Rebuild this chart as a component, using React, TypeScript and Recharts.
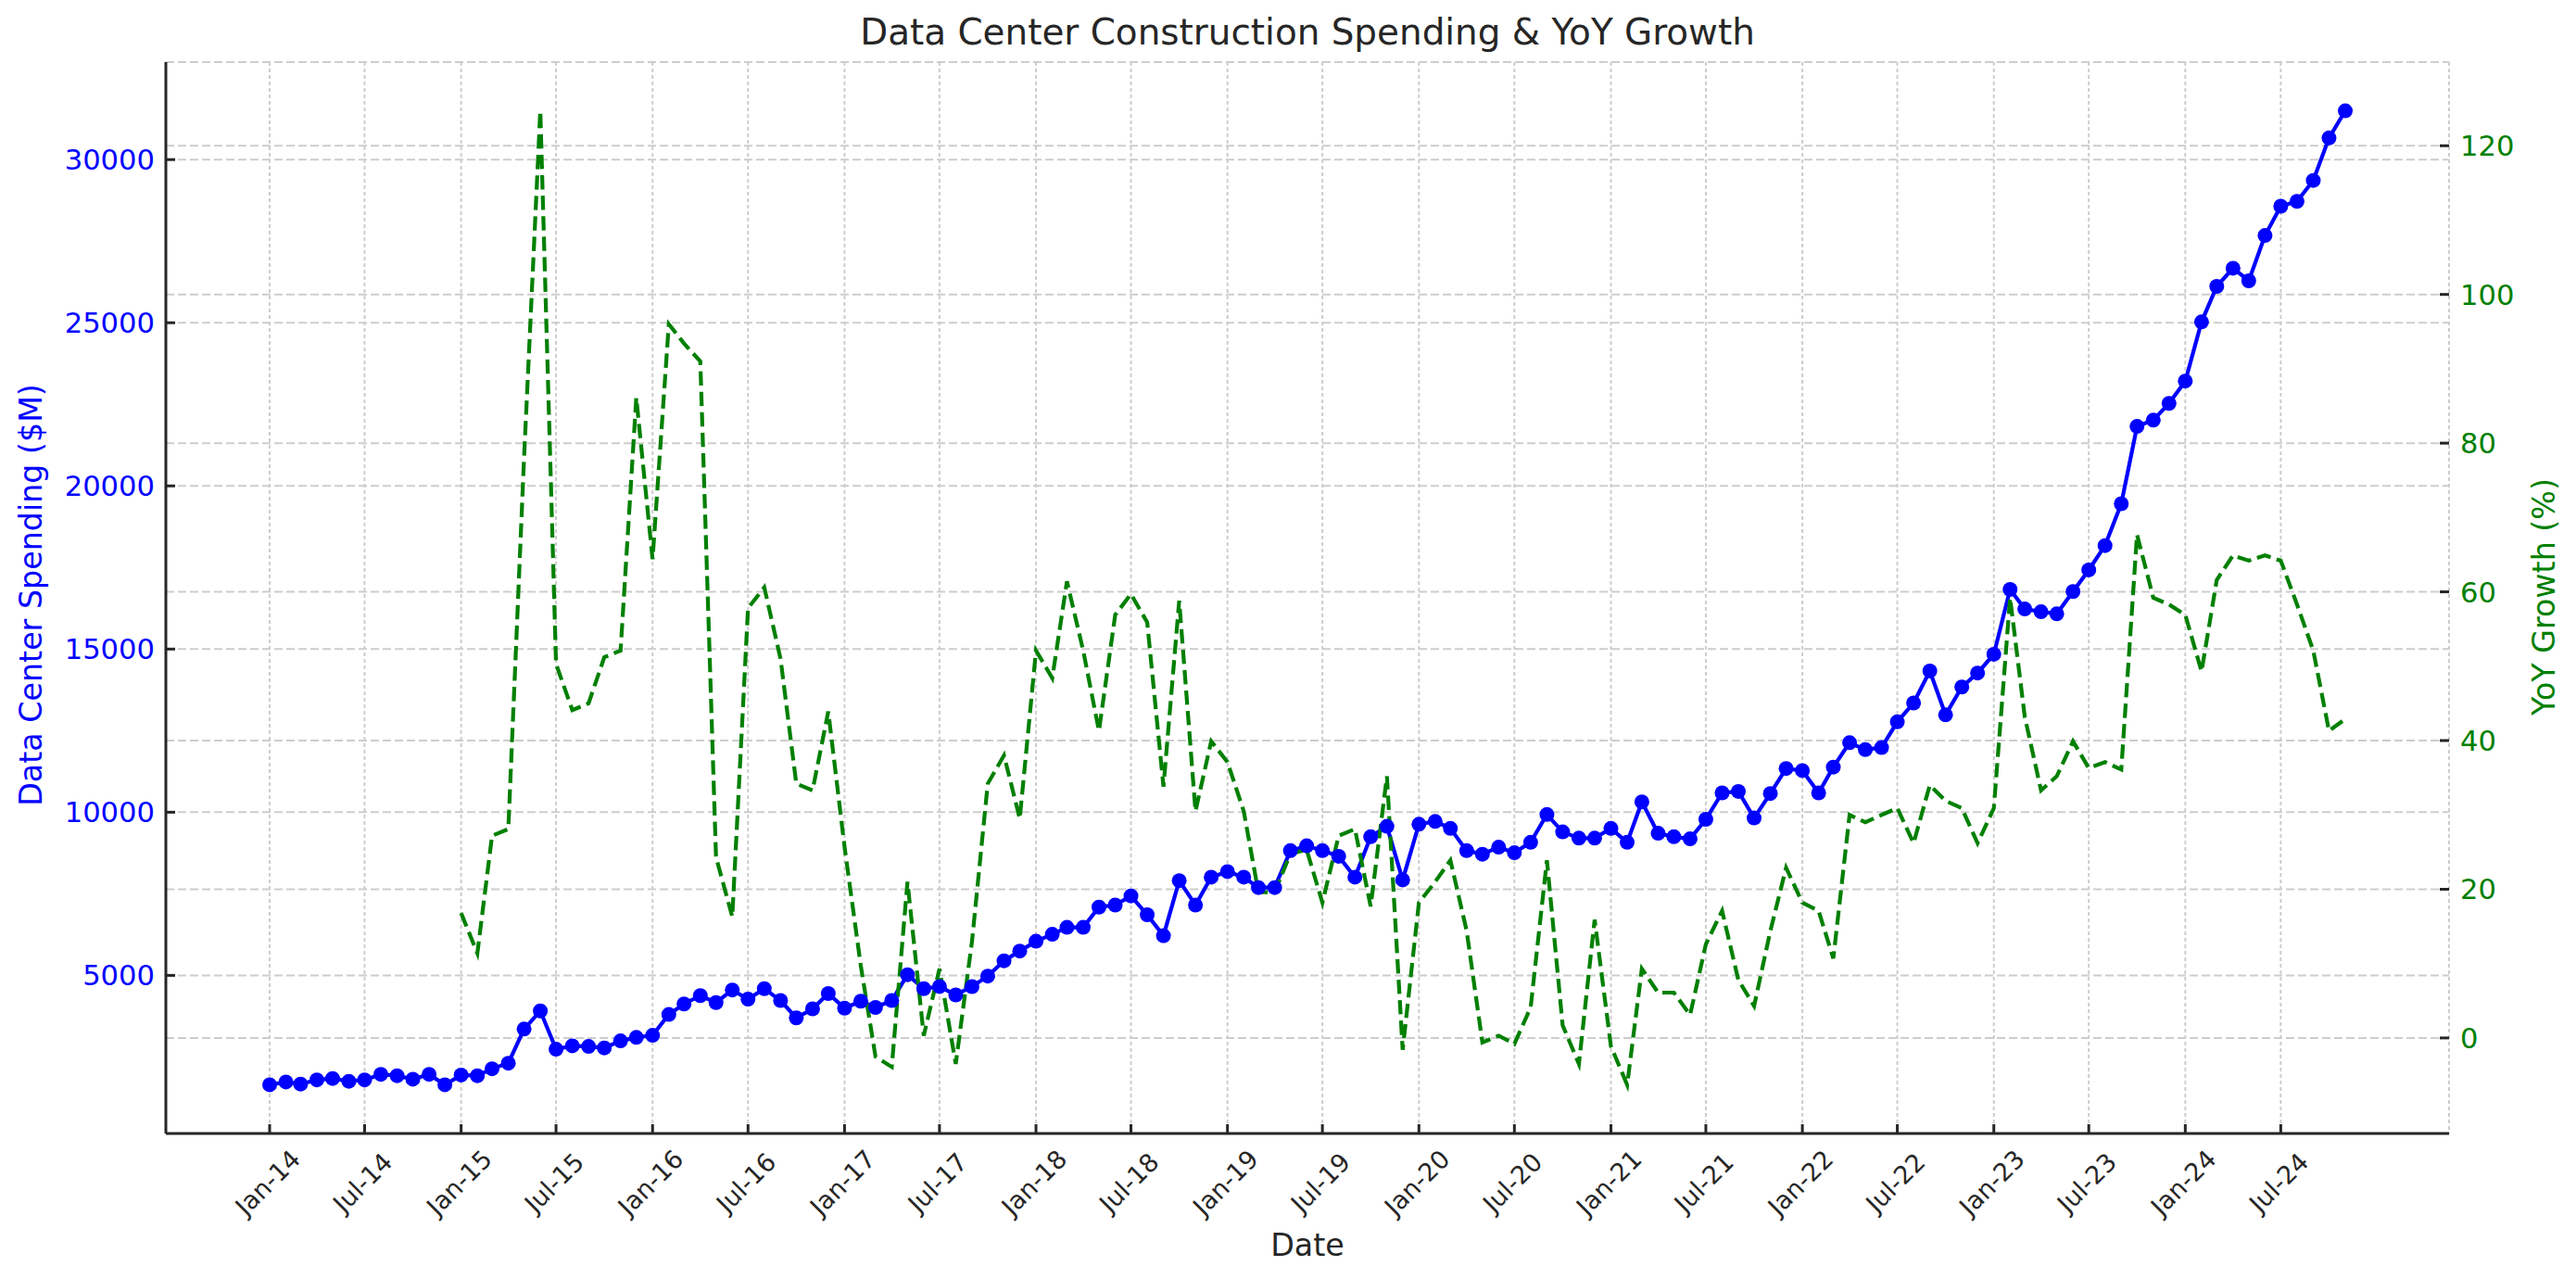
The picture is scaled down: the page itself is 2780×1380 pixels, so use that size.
import React from 'react';
import { ComposedChart, Line, XAxis, YAxis, CartesianGrid } from 'recharts';

// monthly values, Jan-14 .. Nov-24
const START_YEAR = 2014;
const MONTHS = ['Jan', 'Feb', 'Mar', 'Apr', 'May', 'Jun', 'Jul', 'Aug', 'Sep', 'Oct', 'Nov', 'Dec'];

const SPENDING = [
  1647, 1733, 1669, 1797, 1840, 1755, 1797, 1968, 1925, 1818, 1968, 1647,
  1947, 1925, 2139, 2309, 3355, 3910, 2736, 2842, 2821, 2778, 2992, 3099,
  3163, 3803, 4124, 4380, 4166, 4551, 4273, 4593, 4230, 3697, 3974, 4444,
  3995, 4209, 4017, 4230, 5020, 4593, 4658, 4401, 4657, 4978, 5448, 5746,
  6045, 6259, 6473, 6473, 7092, 7156, 7434, 6857, 6216, 7903, 7156, 8010,
  8180, 8010, 7690, 7690, 8821, 8971, 8821, 8650, 8010, 9248, 9568, 7924,
  9632, 9718, 9504, 8821, 8714, 8928, 8757, 9077, 9931, 9397, 9205, 9205,
  9504, 9077, 10315, 9354, 9248, 9184, 9782, 10593, 10636, 9824, 10572, 11340,
  11276, 10593, 11383, 12130, 11917, 11981, 12771, 13347, 14329, 12984, 13838, 14265,
  14841, 16827, 16229, 16144, 16080, 16763, 17425, 18172, 19453, 21823, 22015, 22528,
  23211, 25026, 26114, 26669, 26285, 27673, 28570, 28720, 29360, 30662, 31495,
];

// YoY growth starts one year later (Jan-15)
const YOY_GROWTH = [
  16.8, 11.4, 27.2, 28.1, 78, 124.7, 50.3, 44.1, 45.0, 51.2, 52.1, 86.1,
  64.4, 96.0, 93.4, 91.0, 24.3, 16.3, 57.8, 60.6, 51.0, 34.2, 33.3, 43.9,
  25.7, 9.7, -2.5, -3.9, 21.0, 0.3, 9.3, -3.5, 13, 34.2, 38.0, 29.5,
  52.1, 48.4, 61.4, 52.1, 41.3, 56.9, 59.7, 55.9, 33.8, 58.8, 30.5, 39.9,
  37.1, 30.5, 19.6, 19.6, 24.8, 25.3, 18.2, 27.2, 28.1, 17.7, 35.2, -1.6,
  18.2, 21.0, 23.9, 14.4, -0.6, 0.3, -0.8, 4.1, 23.9, 1.7, -3.5, 15.9,
  -1.1, -6.3, 9.3, 6.1, 6.1, 3.1, 12.6, 17.1, 7.8, 4.3, 14.4, 22.9,
  18.2, 17.1, 10.7, 30.0, 29.0, 30.0, 30.9, 26.2, 34.0, 31.9, 30.9, 26.2,
  30.9, 59.2, 43.2, 33.3, 35.2, 39.9, 36.3, 37.1, 36.1, 67.7, 59.2, 58.3,
  56.9, 49.3, 61.6, 64.9, 64.2, 64.9, 64.2, 58.3, 52.1, 41.3, 42.9,
];

const LEFT_TICKS = [5000, 10000, 15000, 20000, 25000, 30000];
const RIGHT_TICKS = [0, 20, 40, 60, 80, 100, 120];

const BLUE = '#0000ff';
const GREEN = '#008000';
const DARK = '#262626';
const GRID = '#cdcdcd';
const FONT = 'DejaVu Sans, sans-serif';

const DAY = 86400000;
const dayOf = (i: number) => (Date.UTC(START_YEAR, i, 1) - Date.UTC(START_YEAR, 0, 1)) / DAY;
const labelOf = (i: number) =>
  `${MONTHS[i % 12]}-${String((START_YEAR + Math.floor(i / 12)) % 100).padStart(2, '0')}`;

const rows = SPENDING.map((v, i) => ({
  t: dayOf(i),
  spend: v,
  yoy: i >= 12 ? YOY_GROWTH[i - 12] : null,
}));

const xTickIdx: number[] = [];
for (let i = 0; i < SPENDING.length; i += 6) xTickIdx.push(i);
const X_TICKS = xTickIdx.map(dayOf);
const xLabel: Record<number, string> = {};
xTickIdx.forEach((i) => (xLabel[dayOf(i)] = labelOf(i)));

// matplotlib style 5% margins
const pad = (lo: number, hi: number): [number, number] => [lo - (hi - lo) * 0.05, hi + (hi - lo) * 0.05];
const X_DOMAIN = pad(0, dayOf(SPENDING.length - 1));
const LEFT_DOMAIN = pad(Math.min(...SPENDING), Math.max(...SPENDING));
const RIGHT_DOMAIN = pad(Math.min(...YOY_GROWTH), Math.max(...YOY_GROWTH));

const W = 2780;
const H = 1380;
const TOP = 67;
const LEFT_W = 179;
const RIGHT_W = 137;
const X_H = 157;
const AXIS_Y = H - X_H;

const LeftTick = ({ x, y, payload }: any) => (
  <g>
    <line x1={x} x2={x + 10} y1={y} y2={y} stroke={DARK} strokeWidth={3} />
    <text x={x - 12} y={y} dy="0.36em" textAnchor="end" fill={BLUE} fontSize={30.6} fontFamily={FONT}>
      {payload.value}
    </text>
  </g>
);

const RightTick = ({ x, y, payload }: any) => (
  <g>
    <line x1={x - 10} x2={x} y1={y} y2={y} stroke={DARK} strokeWidth={3} />
    <text x={x + 12} y={y} dy="0.36em" textAnchor="start" fill={GREEN} fontSize={30.6} fontFamily={FONT}>
      {payload.value}
    </text>
  </g>
);

const DateTick = ({ x, y, payload }: any) => (
  <g>
    <line x1={x} x2={x} y1={y - 10} y2={y} stroke={DARK} strokeWidth={3} />
    <text
      transform={`translate(${x - 2}, ${AXIS_Y + 53}) rotate(-45)`}
      textAnchor="middle"
      dy="0.35em"
      fill={DARK}
      fontSize={27}
      fontFamily={FONT}
    >
      {xLabel[payload.value]}
    </text>
  </g>
);

export default function App() {
  return (
    <div style={{ position: 'absolute', left: 0, top: 0, width: W, height: H, background: '#fff' }}>
      <ComposedChart width={W} height={H} data={rows} margin={{ top: TOP, right: 0, bottom: 0, left: 0 }}>
        {/* date grid: dotted */}
        <CartesianGrid
          xAxisId="x"
          yAxisId="left"
          horizontal={false}
          stroke={GRID}
          strokeWidth={2}
          strokeDasharray="4 3"
        />
        <CartesianGrid
          xAxisId="x"
          yAxisId="left"
          vertical={false}
          stroke={GRID}
          strokeWidth={2}
          strokeDasharray="9 4"
        />
        <CartesianGrid
          xAxisId="x"
          yAxisId="right"
          vertical={false}
          stroke={GRID}
          strokeWidth={2}
          strokeDasharray="9 4"
        />
        <XAxis
          xAxisId="x"
          dataKey="t"
          type="number"
          domain={X_DOMAIN}
          allowDataOverflow
          ticks={X_TICKS}
          interval={0}
          height={X_H}
          tickSize={0}
          tickMargin={0}
          tickLine={false}
          axisLine={{ stroke: DARK, strokeWidth: 3 }}
          tick={<DateTick />}
        />
        <YAxis
          yAxisId="left"
          orientation="left"
          type="number"
          domain={LEFT_DOMAIN}
          allowDataOverflow
          ticks={LEFT_TICKS}
          interval={0}
          width={LEFT_W}
          tickSize={0}
          tickMargin={0}
          tickLine={false}
          axisLine={{ stroke: DARK, strokeWidth: 3 }}
          tick={<LeftTick />}
        />
        <YAxis
          yAxisId="right"
          orientation="right"
          type="number"
          domain={RIGHT_DOMAIN}
          allowDataOverflow
          ticks={RIGHT_TICKS}
          interval={0}
          width={RIGHT_W}
          tickSize={0}
          tickMargin={0}
          tickLine={false}
          axisLine={false}
          tick={<RightTick />}
        />
        <Line
          xAxisId="x"
          yAxisId="left"
          dataKey="spend"
          stroke={BLUE}
          strokeWidth={4.2}
          dot={{ r: 8, fill: BLUE, stroke: BLUE, strokeWidth: 0 }}
          activeDot={false}
          isAnimationActive={false}
        />
        <Line
          xAxisId="x"
          yAxisId="right"
          dataKey="yoy"
          stroke={GREEN}
          strokeWidth={4.2}
          strokeDasharray="15.4 6.7"
          dot={false}
          activeDot={false}
          connectNulls={false}
          isAnimationActive={false}
        />
      </ComposedChart>
      <svg
        width={W}
        height={H}
        style={{ position: 'absolute', left: 0, top: 0, pointerEvents: 'none' }}
        fontFamily={FONT}
      >
        <text x={1411} y={48} textAnchor="middle" fontSize={38.9} fill={DARK}>
          Data Center Construction Spending &amp; YoY Growth
        </text>
        <text x={1411} y={1355} textAnchor="middle" fontSize={33.3} fill={DARK}>
          Date
        </text>
        <text transform="translate(45, 642) rotate(-90)" textAnchor="middle" fontSize={33.3} fill={BLUE}>
          Data Center Spending ($M)
        </text>
        <text transform="translate(2757, 644) rotate(-90)" textAnchor="middle" fontSize={33.3} fill={GREEN}>
          YoY Growth (%)
        </text>
      </svg>
    </div>
  );
}
